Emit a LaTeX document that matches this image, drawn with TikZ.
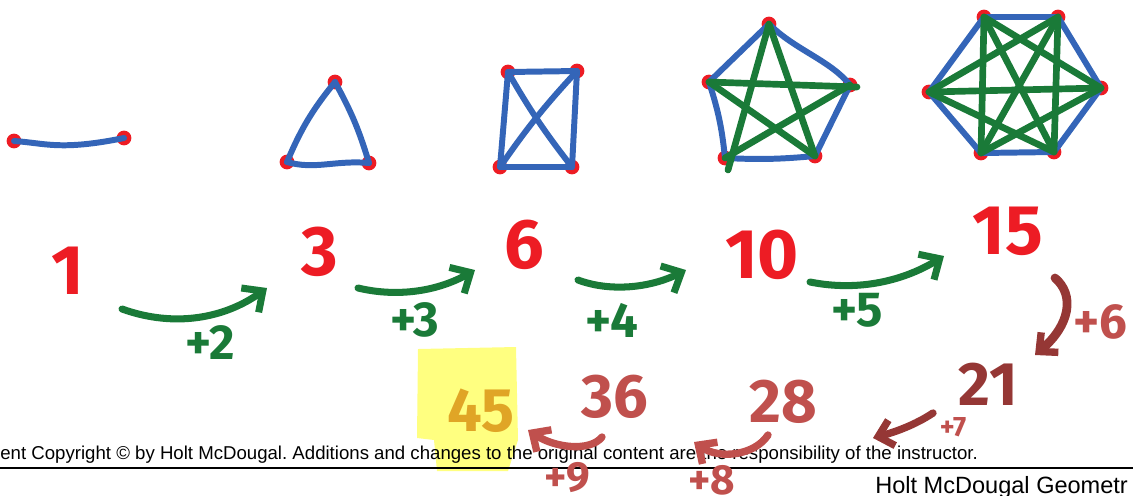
\documentclass[tikz,border=0pt]{standalone}
\usepackage{fontspec}
\setmainfont{Liberation Sans}
\newfontfamily\handfont{Fira Sans}
\usetikzlibrary{arrows.meta}
\definecolor{penblue}{HTML}{3465B8}
\definecolor{pengreen}{HTML}{1A7A38}
\definecolor{penred}{HTML}{ED1C24}
\definecolor{darkred}{HTML}{953735}
\definecolor{softred}{HTML}{C0504D}
\definecolor{penorange}{HTML}{E0A526}
\definecolor{marker}{HTML}{FFFF80}
\tikzset{
  edge/.style={penblue, line width=3.4pt, line cap=round, line join=round},
  diag/.style={pengreen, line width=3.8pt, line cap=round, line join=round},
  num/.style={font=\handfont\bfseries\fontsize{40pt}{40pt}\selectfont, text=penred, inner sep=0pt},
  sum/.style={font=\handfont\bfseries\fontsize{35pt}{35pt}\selectfont, text=softred, inner sep=0pt},
  step label/.style={font=\handfont\bfseries\fontsize{28pt}{28pt}\selectfont, text=pengreen, inner sep=0pt},
  garrow/.style={pengreen, line width=4pt, line cap=round, line join=round,
    -{Straight Barb[length=9pt,width=17pt,line width=4pt]}},
  rarrow/.style={softred, line width=4.2pt, line cap=round, line join=round,
    -{Straight Barb[length=8pt,width=15pt,line width=4.2pt]}}
}
\frenchspacing
\begin{document}
\begin{tikzpicture}[x=0.02cm,y=-0.02cm]
\useasboundingbox (0,0) rectangle (1133,495);

% vertices
\coordinate (s1) at (14,141);
\coordinate (s2) at (124,138);
\coordinate (ta) at (335,82);
\coordinate (tb) at (287,162);
\coordinate (tc) at (369,163);
\coordinate (qa) at (508,72);
\coordinate (qb) at (577,71);
\coordinate (qc) at (500,167);
\coordinate (qd) at (572,167);
\coordinate (pa) at (769,24);
\coordinate (pb) at (709,82);
\coordinate (pc) at (850,85);
\coordinate (pd) at (725,158);
\coordinate (pe) at (815,156);
\coordinate (ha) at (984,17);
\coordinate (hb) at (1058,17);
\coordinate (hc) at (1101,88);
\coordinate (hd) at (1054,152);
\coordinate (he) at (981,153);
\coordinate (hf) at (929,92);

\foreach \v in {s1,s2,ta,tb,tc,qa,qb,qc,qd,pa,pb,pc,pd,pe,ha,hb,hc,hd,he,hf}
  \fill[penred] (\v) circle[radius=4.2pt];

\draw[edge] (s1) .. controls (45,143) and (60,151) .. (s2);

\draw[edge] (ta) to[bend right=8] (tb);
\draw[edge] (ta) to[bend left=6] (tc);
\draw[edge] (tb) .. controls (315,170) and (335,160) .. (tc);

\draw[edge] (qa) -- (qb) -- (qd) -- (qc) -- cycle;
\draw[edge] (qa) to[bend right=4] (qd);
\draw[edge] (qb) to[bend right=4] (qc);

\draw[edge] (pa) -- (pb) to[bend left=6] (pd) to[bend right=4] (pe) -- (pc);
\draw[edge] (pa) .. controls (795,50) and (830,60) .. (pc);
\draw[diag] (pa) -- (728,170);
\draw[diag] (pa) -- (pe);
\draw[diag] (pb) -- (857,87);
\draw[diag] (pb) -- (pe);
\draw[diag] (pc) -- (pd);

\draw[edge] (ha) -- (hb) -- (hc) -- (hd) -- (he) -- (hf) -- cycle;
\draw[diag] (ha) -- (he);
\draw[diag] (hb) -- (hd);
\draw[diag] (hf) -- (hc);
\draw[diag] (ha) -- (hc);
\draw[diag] (ha) -- (hd);
\draw[diag] (hb) -- (hf);
\draw[diag] (hb) -- (he);
\draw[diag] (hf) -- (hd);
\draw[diag] (he) -- (hc);

% footer
\fill[marker] (418,349) -- (516,347) -- (518,440) -- (508,471) -- (437,471) -- (434,440) -- (417,438) -- cycle;
\node[anchor=base west, inner sep=0pt, font=\fontsize{10.6pt}{12pt}\selectfont] (credit) at (0,459)
  {ent Copyright \textcopyright{} by Holt McDougal. Additions and changes to the original content are the responsibility of the instructor.};
\draw[line width=1.2pt] (0,468) -- (1133,468);
\node[anchor=base west, inner sep=0pt, font=\fontsize{13.4pt}{15pt}\selectfont] (book) at (875,493) {Holt McDougal Geometr};

% first row
\node[num] (n1) at (68,271) {1};
\node[num] (n3) at (320,252) {3};
\node[num] (n6) at (524,245) {6};
\node[num] (n10) at (762,255) {10};
\node[num] (n15) at (1008,231) {15};

\coordinate (a1s) at (122,309);
\coordinate (a1e) at (267,288);
\coordinate (a2s) at (358,288);
\coordinate (a2e) at (475,270);
\coordinate (a3s) at (578,280);
\coordinate (a3e) at (686,270);
\coordinate (a4s) at (810,282);
\coordinate (a4e) at (944,256);
\draw[garrow] (a1s) .. controls (175,328) and (225,318) .. (a1e);
\draw[garrow] (a2s) .. controls (400,298) and (440,290) .. (a2e);
\draw[garrow] (a3s) .. controls (610,292) and (650,288) .. (a3e);
\draw[garrow] (a4s) .. controls (860,292) and (905,280) .. (a4e);
\node[step label] (p2) at (210,343) {+2};
\node[step label] (p3) at (415,320) {+3};
\node[step label] (p4) at (612,320) {+4};
\node[step label] (p5) at (857,310) {+5};

% second row
\coordinate (a5s) at (1055,278);
\coordinate (a5e) at (1035,355);
\draw[rarrow, darkred, line width=5pt] (a5s) .. controls (1075,295) and (1070,325) .. (a5e);
\node[step label, softred] (p6) at (1100,322) {+6};

\node[sum, darkred] (n21) at (988,384) {21};
\node[sum] (n28) at (783,402) {28};
\node[sum] (n36) at (615,397) {36};
\node[sum, penorange] (n45) at (481,411) {45};

\coordinate (a6s) at (933,413);
\coordinate (a6e) at (873,438);
\coordinate (a7s) at (768,435);
\coordinate (a7e) at (694,442);
\coordinate (a8s) at (602,437);
\coordinate (a8e) at (528,430);
\draw[rarrow, darkred] (a6s) .. controls (915,425) and (895,432) .. (a6e);
\draw[rarrow] (a7s) .. controls (755,455) and (720,460) .. (a7e);
\draw[rarrow] (a8s) .. controls (590,452) and (555,448) .. (a8e);
\node[step label, softred, font=\handfont\bfseries\fontsize{16pt}{16pt}\selectfont] (p7) at (953,427) {+7};
\node[step label, softred, font=\handfont\bfseries\fontsize{24pt}{24pt}\selectfont] (p8) at (712,480) {+8};
\node[step label, softred, font=\handfont\bfseries\fontsize{24pt}{24pt}\selectfont] (p9) at (567,478) {+9};
\end{tikzpicture}
\end{document}
